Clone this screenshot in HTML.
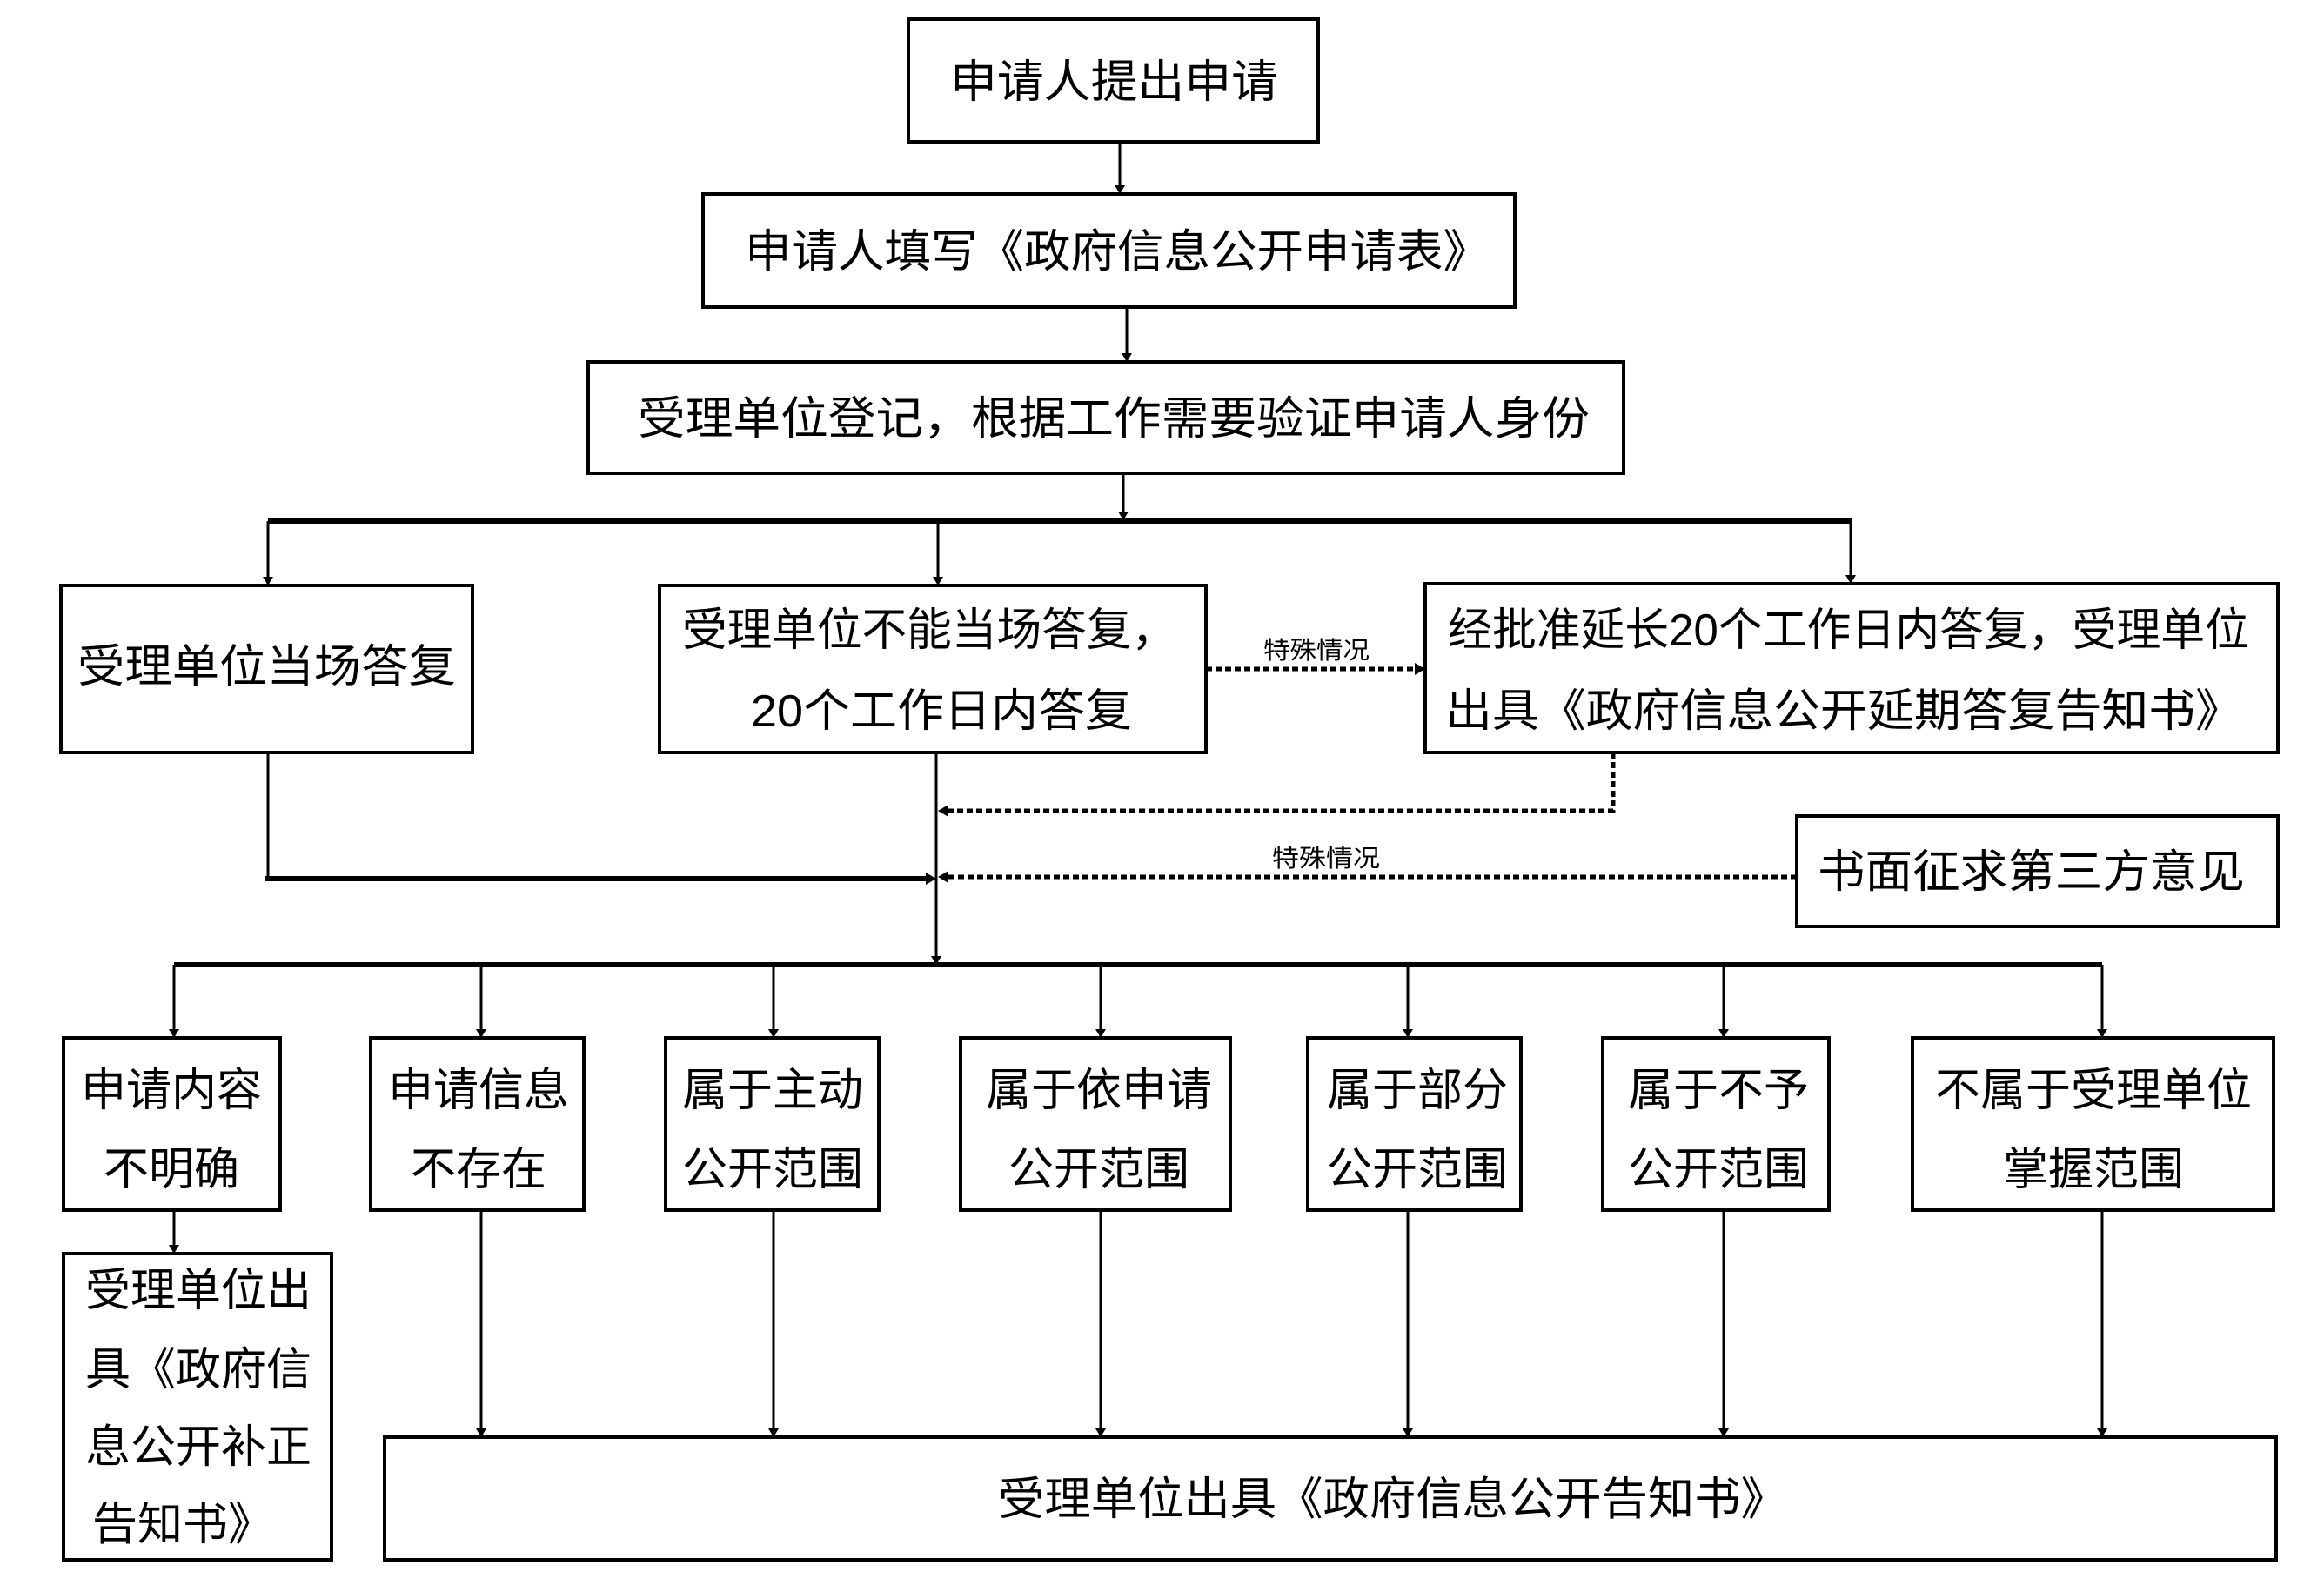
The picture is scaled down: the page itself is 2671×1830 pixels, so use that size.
<!DOCTYPE html>
<html><head><meta charset="utf-8"><style>
html,body{margin:0;padding:0;background:#fff;}
svg{display:block;}
text{font-family:"Liberation Sans","Noto Sans CJK SC",sans-serif;font-size:52px;fill:#000;}
.s{font-size:28px;}
</style></head><body>
<svg width="2671" height="1830" viewBox="0 0 2671 1830" xmlns="http://www.w3.org/2000/svg">
<defs>
<marker id="a" viewBox="0 0 10 10" refX="10" refY="5" markerWidth="5" markerHeight="5" orient="auto" markerUnits="userSpaceOnUse">
</marker>
</defs>
<g fill="none" stroke="#000" stroke-width="4">
<rect x="1044" y="22" width="471" height="141"/>
<rect x="808" y="223" width="933" height="130"/>
<rect x="676" y="416" width="1190" height="128"/>
<rect x="70" y="673" width="473" height="192"/>
<rect x="758" y="673" width="628" height="192"/>
<rect x="1638" y="671" width="980" height="194"/>
<rect x="2065" y="938" width="553" height="127"/>
<rect x="73" y="1193" width="249" height="198"/>
<rect x="426" y="1193" width="245" height="198"/>
<rect x="765" y="1193" width="245" height="198"/>
<rect x="1104" y="1193" width="310" height="198"/>
<rect x="1503" y="1193" width="245" height="198"/>
<rect x="1842" y="1193" width="260" height="198"/>
<rect x="2198" y="1193" width="415" height="198"/>
<rect x="73" y="1441" width="308" height="352"/>
<rect x="442" y="1652" width="2174" height="141"/>
</g>
<g stroke="#000" stroke-width="3" fill="none">
<line x1="1287" y1="163" x2="1287" y2="215"/>
<line x1="1295" y1="353" x2="1295" y2="408"/>
<line x1="1291" y1="544" x2="1291" y2="590"/>
<line x1="308" y1="599" x2="308" y2="665"/>
<line x1="1078" y1="599" x2="1078" y2="665"/>
<line x1="2127" y1="599" x2="2127" y2="663"/>
<line x1="308" y1="865" x2="308" y2="1010"/>
<line x1="1076" y1="865" x2="1076" y2="1101"/>
<line x1="200" y1="1109" x2="200" y2="1185"/>
<line x1="553" y1="1109" x2="553" y2="1185"/>
<line x1="889" y1="1109" x2="889" y2="1185"/>
<line x1="1265" y1="1109" x2="1265" y2="1185"/>
<line x1="1618" y1="1109" x2="1618" y2="1185"/>
<line x1="1981" y1="1109" x2="1981" y2="1185"/>
<line x1="2416" y1="1109" x2="2416" y2="1185"/>
<line x1="200" y1="1391" x2="200" y2="1433"/>
<line x1="553" y1="1391" x2="553" y2="1644"/>
<line x1="889" y1="1391" x2="889" y2="1644"/>
<line x1="1265" y1="1391" x2="1265" y2="1644"/>
<line x1="1618" y1="1391" x2="1618" y2="1644"/>
<line x1="1981" y1="1391" x2="1981" y2="1644"/>
<line x1="2416" y1="1391" x2="2416" y2="1644"/>
</g>
<g stroke="#000" stroke-width="6">
<line x1="308" y1="599" x2="2128" y2="599"/>
<line x1="200" y1="1109" x2="2416" y2="1109"/>
<line x1="305" y1="1010" x2="1068" y2="1010"/>
</g>
<g stroke="#000" stroke-width="5" stroke-dasharray="7 4" fill="none">
<line x1="1386" y1="769" x2="1628" y2="769"/>
<polyline points="1854,865 1854,932 1086,932"/>
<line x1="2065" y1="1008" x2="1086" y2="1008"/>
</g>
<g fill="#000">
<polygon points="1281,213 1293,213 1287,223"/>
<polygon points="1289,406 1301,406 1295,416"/>
<polygon points="1285,588 1297,588 1291,598"/>
<polygon points="302,663 314,663 308,673"/>
<polygon points="1072,663 1084,663 1078,673"/>
<polygon points="2121,661 2133,661 2127,671"/>
<polygon points="1626,762 1626,776 1638,769"/>
<polygon points="1090,925 1090,939 1078,932"/>
<polygon points="1090,1001 1090,1015 1078,1008"/>
<polygon points="1064,1003 1064,1017 1076,1010"/>
<polygon points="1070,1099 1082,1099 1076,1109"/>
<polygon points="194,1183 206,1183 200,1193"/>
<polygon points="547,1183 559,1183 553,1193"/>
<polygon points="883,1183 895,1183 889,1193"/>
<polygon points="1259,1183 1271,1183 1265,1193"/>
<polygon points="1612,1183 1624,1183 1618,1193"/>
<polygon points="1975,1183 1987,1183 1981,1193"/>
<polygon points="2410,1183 2422,1183 2416,1193"/>
<polygon points="194,1431 206,1431 200,1441"/>
<polygon points="547,1642 559,1642 553,1652"/>
<polygon points="883,1642 895,1642 889,1652"/>
<polygon points="1259,1642 1271,1642 1265,1652"/>
<polygon points="1612,1642 1624,1642 1618,1652"/>
<polygon points="1975,1642 1987,1642 1981,1652"/>
<polygon points="2410,1642 2422,1642 2416,1652"/>
</g>
<g>
<text x="1092" y="112" textLength="377" lengthAdjust="spacingAndGlyphs">申请人提出申请</text>
<text x="856" y="307" textLength="856" lengthAdjust="spacingAndGlyphs">申请人填写《政府信息公开申请表》</text>
<text x="733" y="499" textLength="1094" lengthAdjust="spacingAndGlyphs">受理单位登记，根据工作需要验证申请人身份</text>
<text x="89" y="784" textLength="435" lengthAdjust="spacingAndGlyphs">受理单位当场答复</text>
<text x="784" y="742" textLength="568" lengthAdjust="spacingAndGlyphs">受理单位不能当场答复，</text>
<text x="863" y="835" textLength="438" lengthAdjust="spacingAndGlyphs">20个工作日内答复</text>
<text x="1664" y="742" textLength="921" lengthAdjust="spacingAndGlyphs">经批准延长20个工作日内答复，受理单位</text>
<text x="1661" y="835" textLength="916" lengthAdjust="spacingAndGlyphs">出具《政府信息公开延期答复告知书》</text>
<text x="2089" y="1020" textLength="491" lengthAdjust="spacingAndGlyphs">书面征求第三方意见</text>
<text class="s" x="1452" y="757" textLength="122" lengthAdjust="spacingAndGlyphs">特殊情况</text>
<text class="s" x="1462" y="996" textLength="124" lengthAdjust="spacingAndGlyphs">特殊情况</text>
</g>
<g text-anchor="middle">
<text x="197" y="1271">申请内容</text><text x="197" y="1362">不明确</text>
<text x="550" y="1271">申请信息</text><text x="550" y="1362">不存在</text>
<text x="888" y="1271">属于主动</text><text x="888" y="1362">公开范围</text>
<text x="1263" y="1271">属于依申请</text><text x="1263" y="1362">公开范围</text>
<text x="1629" y="1271">属于部分</text><text x="1629" y="1362">公开范围</text>
<text x="1975" y="1271">属于不予</text><text x="1975" y="1362">公开范围</text>
<text x="2406" y="1271">不属于受理单位</text><text x="2406" y="1362">掌握范围</text>
<text x="228" y="1501">受理单位出</text>
<text x="228" y="1592">具《政府信</text>
<text x="228" y="1681">息公开补正</text>
<text x="210" y="1770">告知书》</text>
</g>
<text x="1147" y="1741" textLength="907" lengthAdjust="spacingAndGlyphs">受理单位出具《政府信息公开告知书》</text>
</svg>
</body></html>
